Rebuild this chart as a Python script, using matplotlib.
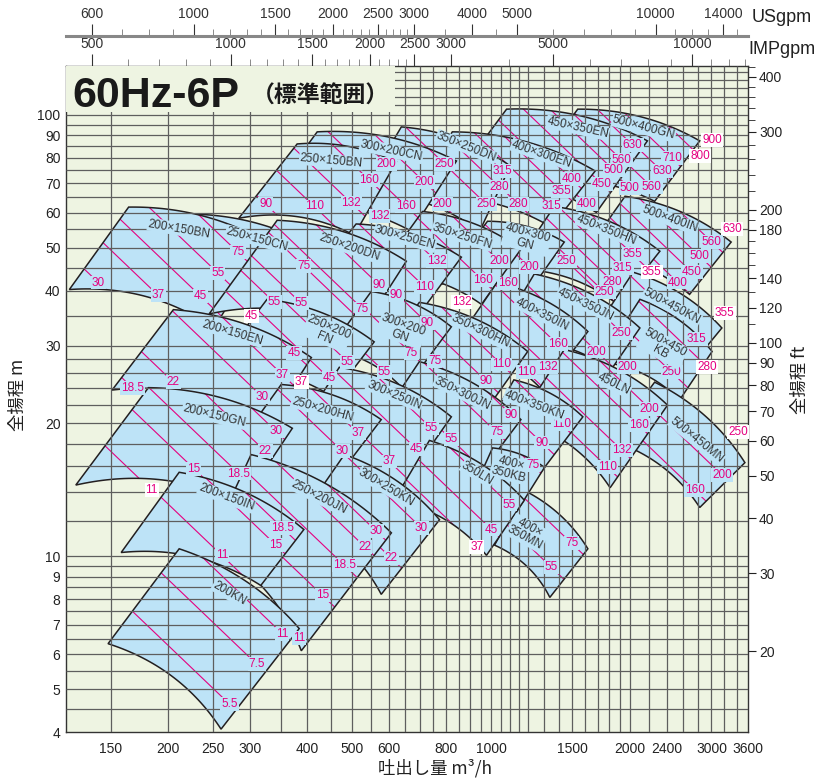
import numpy as np
import matplotlib
matplotlib.use("Agg")
import matplotlib.pyplot as plt
from matplotlib.path import Path
from matplotlib.patches import PathPatch, Rectangle
from matplotlib.ticker import FixedLocator, NullLocator, NullFormatter

NUM_FONT = ['Liberation Sans Narrow', 'Liberation Sans', 'DejaVu Sans']
JP_FONT = ['Noto Sans CJK JP', 'DejaVu Sans']
plt.rcParams['font.family'] = NUM_FONT

BG = '#eef4e2'
TILE = '#bde3f7'
EDGE = '#231f20'
MAGENTA = '#e5007f'
GRID = '#5e5e5e'

# pump tiles in drawing order; corners are (L, T, R, B) as (flow m3/h, head m)
tile_names = [
    '500×400GN', '450×350EN', '400×300EN', '350×250DN', '300×200CN', '250×150CN', '250×150BN', '200×150BN',
    '500×400IN', '450×350HN', '400×300\nGN', '350×250FN', '300×250EN', '250×200DN',
    '500×450KN', '500×450\nKB', '450×350JN', '400×350IN', '350×300HN', '300×200\nGN', '250×200\nFN', '200×150EN',
    '500×450MN', '450LN', '400×350KN', '350×300JN', '300×250IN', '250×200HN', '200×150GN',
    '400×\n350MN', '400×\n350KB', '350LN', '300×250KN', '250×200JN', '200×150IN',
    '200KN',
]

tile_corners = [
    [(1170, 69.7), (1540, 103), (2830, 87.3), (2260, 63.7)],
    [(833, 71.5), (1080, 103), (2180, 87.3), (1690, 60.1)],
    [(665, 64.4), (824, 91.5), (1680, 74.6), (1350, 55.7)],
    [(523, 66.1), (639, 93.9), (1100, 76.6), (944, 54.5)],
    [(319, 61.8), (420, 91.5), (841, 78.6), (672, 54.5)],
    [(181, 40.2), (218, 59.6), (424, 49.6), (334, 34.0)],
    [(284, 58.3), (380, 85.9), (623, 78.2), (505, 53.4)],
    [(122, 40.2), (164, 61.8), (327, 51.5), (251, 32.9)],
    [(1590, 48.3), (1950, 65.4), (3310, 51.5), (2690, 39.2)],
    [(1110, 44.7), (1370, 62.0), (2320, 49.1), (1880, 37.2)],
    [(773, 41.3), (982, 57.4), (1440, 51.5), (1190, 38.8)],
    [(567, 43.6), (710, 60.4), (1160, 49.6), (953, 37.2)],
    [(393, 40.2), (510, 56.6), (862, 47.6), (706, 35.9)],
    [(245, 35.4), (344, 57.7), (655, 46.6), (523, 32.3)],
    [(1680, 32.6), (2030, 44.0), (3160, 32.9), (2800, 28.2)],
    [(1720, 27.6), (2100, 38.2), (3010, 29.1), (2560, 22.6)],
    [(1020, 31.0), (1240, 43.6), (2100, 32.9), (1820, 26.5)],
    [(833, 30.2), (1030, 41.7), (1620, 32.3), (1290, 23.8)],
    [(558, 27.2), (699, 37.6), (1200, 29.1), (992, 22.0)],
    [(446, 29.4), (550, 39.8), (820, 33.1), (648, 23.8)],
    [(251, 26.5), (327, 38.2), (558, 30.6), (453, 23.0)],
    [(151, 23.8), (205, 36.2), (408, 28.2), (330, 19.9)],
    [(1820, 18.3), (2260, 24.8), (3545, 16.3), (2830, 12.9)],
    [(1150, 20.4), (1440, 29.4), (2410, 22.0), (1810, 14.3)],
    [(944, 18.3), (1120, 25.1), (1580, 20.7), (1190, 14.0)],
    [(567, 19.9), (699, 27.6), (1160, 20.4), (934, 15.1)],
    [(365, 17.9), (469, 26.8), (820, 20.7), (633, 14.1)],
    [(273, 17.0), (351, 24.5), (578, 20.4), (435, 13.8)],
    [(126, 14.5), (181, 24.1), (371, 19.5), (289, 13.2)],
    [(1017, 10.6), (1180, 14.1), (1620, 10.4), (1340, 8.07)],
    [(898, 13.5), (1007, 17.6), (1305, 15.9), (1124, 12.4)],
    [(617, 13.4), (735, 18.3), (1180, 13.4), (977, 10.05)],
    [(384, 12.1), (481, 17.0), (773, 12.1), (578, 8.2)],
    [(245, 10.6), (302, 17.0), (608, 11.3), (388, 6.11)],
    [(158, 10.2), (211, 15.5), (393, 11.5), (317, 8.59)],
    [(148, 6.34), (211, 10.4), (384, 6.86), (260, 4.06)],
]

name_pos = [
    (2140, 93.4), (1540, 93.4), (1286, 81.4), (884, 84.6), (608, 82.8), (311, 52.3), (450, 78.6), (211, 55.1),
    (2438, 58.0), (1779, 54.8), (1193, 52.3), (867, 53.1), (651, 52.6), (493, 50.1),
    (2462, 36.8), (2354, 29.7), (1602, 37.2), (1286, 35.3), (948, 32.3), (639, 32.5), (441, 32.1), (275, 32.1),
    (2790, 18.3), (1842, 24.5), (1241, 22.0), (867, 23.4), (617, 23.2), (431, 21.5), (251, 20.8),
    (1199, 11.3), (1096, 15.8), (934, 15.4), (593, 14.3), (424, 13.6), (267, 13.6),
    (271, 8.24),
]

# motor output (kW) labels per tile: (text, flow, head)
power_labels = [
    [('900', 3007, 87.7), ('800', 2832, 80.6), ('710', 2462, 79.8), ('630', 2342, 74.6), ('560', 2228, 68.6), ('500', 1996, 68.2)],
    [('630', 2026, 85.4), ('560', 1918, 79.0), ('500', 1842, 75.0), ('450', 1736, 69.7), ('400', 1610, 62.7)],
    [('400', 1494, 71.5), ('355', 1421, 67.2), ('315', 1351, 62.0), ('280', 1146, 62.7)],
    [('315', 1058, 74.6), ('280', 1043, 68.6), ('250', 977, 62.7), ('200', 784, 62.7)],
    [('250', 792, 77.5), ('200', 717, 70.4), ('160', 655, 62.0), ('132', 573, 58.9)],
    [],
    [('200', 593, 77.5), ('160', 545, 71.1), ('132', 498, 63.1), ('110', 414, 62.0), ('90', 325, 62.7)],
    [('75', 283, 48.8), ('55', 256, 43.8), ('45', 235, 38.8), ('37', 190, 39.0), ('30', 141, 41.7)],
    [('630', 3323, 55.1), ('560', 3007, 51.5), ('500', 2832, 47.8), ('450', 2721, 44.0), ('400', 2538, 41.7), ('355', 2228, 44.0)],
    [('355', 2026, 48.3), ('315', 1928, 44.9), ('280', 1833, 41.9), ('250', 1762, 39.6), ('250', 1457, 46.6)],
    [('200', 1211, 45.2), ('160', 1085, 41.5)],
    [('200', 1043, 46.6), ('160', 958, 42.2), ('132', 862, 37.6)],
    [('132', 761, 46.6), ('110', 717, 40.8), ('90', 623, 39.0)],
    [('90', 573, 41.1), ('75', 526, 36.4), ('55', 388, 37.4), ('75', 393, 45.4), ('55', 339, 37.6), ('45', 303, 35.0)],
    [('355', 3208, 35.5), ('315', 2790, 31.0)],
    [('280', 2934, 26.9), ('250', 2462, 26.1), ('200', 1976, 26.9)],
    [('250', 1918, 32.1), ('200', 1693, 29.1)],
    [('160', 1393, 30.2), ('132', 1325, 26.9), ('110', 1193, 26.2)],
    [('110', 1053, 27.2), ('90', 977, 24.9), ('75', 754, 27.7)],
    [('90', 728, 33.7), ('75', 672, 28.8), ('55', 587, 26.2)],
    [('55', 488, 27.6), ('45', 446, 25.3), ('37', 388, 24.8)],
    [('45', 374, 28.9), ('37', 353, 25.8), ('30', 319, 23.0), ('22', 205, 24.8), ('18.5', 167, 24.1)],
    [('250', 3424, 19.1), ('200', 3160, 15.3), ('160', 2762, 14.1)],
    [('200', 2206, 21.6), ('160', 2088, 19.8), ('132', 1918, 17.4), ('110', 1788, 15.9)],
    [('110', 1421, 19.9), ('90', 1286, 18.1)],
    [('90', 1107, 20.9), ('75', 1027, 19.1), ('55', 820, 18.4)],
    [('55', 742, 19.5), ('45', 689, 17.5), ('37', 602, 16.4)],
    [('37', 515, 19.0), ('30', 476, 17.3)],
    [('30', 342, 19.2), ('22', 324, 17.3), ('18.5', 284, 15.4), ('15', 227, 15.8), ('11', 184, 14.1)],
    [('75', 1494, 10.7), ('55', 1351, 9.44)],
    [('75', 1229, 16.1)],
    [('55', 1096, 13.1), ('45', 1002, 11.5), ('37', 930, 10.5)],
    [('30', 706, 11.6), ('22', 608, 9.9)],
    [('30', 564, 11.4), ('22', 533, 10.5), ('18.5', 481, 9.54), ('15', 431, 8.16), ('11', 384, 6.54)],
    [('18.5', 353, 11.6), ('15', 342, 10.6), ('11', 261, 10.05)],
    [('11', 353, 6.68), ('7.5', 311, 5.69), ('5.5', 271, 4.63)],
]

# axis values
x_ticks = [150, 200, 250, 300, 400, 500, 600, 800, 1000, 1500, 2000, 2400, 3000, 3600]
y_ticks = [4, 5, 6, 7, 8, 9, 10, 20, 30, 40, 50, 60, 70, 80, 90, 100]
ft_ticks = [20, 30, 40, 50, 60, 70, 80, 90, 100, 120, 140, 180, 200, 300, 400]
ft_minor = [110, 130, 150, 160, 170, 190, 220, 240, 260, 280, 320, 340, 360, 380, 420]
us_ticks = [600, 1000, 1500, 2000, 2500, 3000, 4000, 5000, 10000, 14000]
us_minor = [700, 800, 900, 1100, 1200, 1300, 1400, 1600, 1700, 1800, 1900, 2100, 2200, 2300, 2400,
            2600, 2700, 2800, 2900, 3500, 4500, 6000, 7000, 8000, 9000, 11000, 12000, 13000, 15000]
imp_ticks = [500, 1000, 1500, 2000, 2500, 3000, 5000, 10000]
imp_minor = [600, 700, 800, 900, 1100, 1200, 1300, 1400, 1600, 1700, 1800, 1900, 2100, 2200, 2300,
             2400, 4000, 6000, 7000, 8000, 9000, 11000, 12000, 13000]
grid_q = [150, 200, 250] + list(range(300, 1250, 50)) + list(range(1300, 2100, 100)) + list(range(2200, 3600, 200))
grid_h = list(np.arange(4.5, 10, 0.5)) + list(range(10, 30, 2)) + list(range(30, 130, 5))


def curve(p0, p1, bulge, n=40):
    u0, v0 = np.log10(p0)
    u1, v1 = np.log10(p1)
    t = np.linspace(0, 1, n)
    du, dv = u1 - u0, v1 - v0
    length = np.hypot(du, dv)
    nx, ny = -dv / length, du / length
    if ny < 0:
        nx, ny = -nx, -ny
    off = bulge * length * 4 * t * (1 - t)
    return np.column_stack([10 ** (u0 + t * du + nx * off), 10 ** (v0 + t * dv + ny * off)])


fig = plt.figure(figsize=(8.17, 7.8), dpi=100)
ax = fig.add_axes([66 / 817, 48 / 780, 682 / 817, 666 / 780])
ax.set_xscale('log')
ax.set_yscale('log')
ax.set_xlim(120, 3600)
ax.set_ylim(4, 129)
ax.set_facecolor(BG)

tops = []
for i, (corners, labels) in enumerate(zip(tile_corners, power_labels)):
    L, T, R, B = corners
    top = curve(T, R, 0.07)
    tops.append(top)
    verts = np.vstack([top, curve(L, B, 0.09)[::-1]])
    path = Path(np.vstack([verts, verts[:1]]), closed=True)
    z = 2 + i * 0.03
    fill = PathPatch(path, fc=TILE, ec='none', zorder=z)
    ax.add_patch(fill)
    edge = PathPatch(path, fc='none', ec=EDGE, lw=1.1, zorder=z + 0.02, joinstyle='miter')
    ax.add_patch(edge)
    logpath = Path(np.log10(verts))
    for txt, q, h in labels:
        qs = np.geomspace(q / 6, q * 6, 80)
        line, = ax.plot(qs, h * q / qs, color=MAGENTA, lw=0.8, zorder=z + 0.01)
        line.set_clip_path(fill)
        inside = logpath.contains_point((np.log10(q), np.log10(h)))
        ax.text(q, h, txt, color=MAGENTA, fontsize=8.5, ha='center', va='center', zorder=40,
                bbox=dict(boxstyle='square,pad=0.08', fc=TILE if inside else 'white', ec='none'))

# grid on top of the tiles
ax.vlines(grid_q, 4, 129, colors=GRID, lw=0.9, zorder=20)
ax.hlines(grid_h, 120, 3600, colors=GRID, lw=0.9, zorder=20)

# tile names, turned along the upper curve
for name, (q, h), top in zip(tile_names, name_pos, tops):
    disp = ax.transData.transform(top)
    lx, ly = ax.transData.transform((q, h))
    k = int(np.clip(np.argmin(np.abs(disp[:, 0] - lx)), 1, len(disp) - 2))
    ang = np.degrees(np.arctan2(disp[k + 1, 1] - disp[k - 1, 1], disp[k + 1, 0] - disp[k - 1, 0]))
    ax.text(q, h, name, color='#333333', fontsize=8.5, ha='center', va='center', rotation=ang,
            rotation_mode='anchor', linespacing=0.95, zorder=41,
            bbox=dict(boxstyle='square,pad=0.05', fc=TILE, ec='none'))

# title area
ax.add_patch(Rectangle((0, 0.931), 0.482, 0.07, transform=ax.transAxes, fc=BG, ec='none', zorder=45))
ax.text(0.010, 0.955, '60Hz-6P', transform=ax.transAxes, fontsize=31, fontweight='bold',
        color='#1a1a1a', ha='left', va='center', zorder=46)
ax.text(0.272, 0.955, '（標準範囲）', transform=ax.transAxes, fontsize=16.5, fontweight='bold',
        family=JP_FONT, color='#1a1a1a', ha='left', va='center', zorder=46)

# main axes ticks
ax.set_xticks(x_ticks, [str(v) for v in x_ticks])
ax.set_yticks(y_ticks, [str(v) for v in y_ticks])
ax.xaxis.set_minor_locator(NullLocator())
ax.yaxis.set_minor_locator(NullLocator())
ax.tick_params(axis='both', length=0, labelsize=10, colors='#222222')
ax.tick_params(axis='x', pad=7)
ax.tick_params(axis='y', pad=4)
for s in ax.spines.values():
    s.set_color('#333333')
    s.set_linewidth(1.0)

# head in feet
ft = ax.secondary_yaxis('right', functions=(lambda m: m * 3.28084, lambda f: f / 3.28084))
ft.set_yticks(ft_ticks, [str(v) for v in ft_ticks])
ft.yaxis.set_minor_locator(FixedLocator(ft_minor))
ft.yaxis.set_minor_formatter(NullFormatter())
ft.tick_params(axis='y', which='major', length=6, labelsize=10, colors='#222222', pad=2)
ft.tick_params(axis='y', which='minor', length=5, color='#222222')
ft.spines['right'].set_visible(False)

# flow in gallons per minute
imp = ax.secondary_xaxis('top', functions=(lambda q: q * 3.666, lambda g: g / 3.666))
imp.set_xticks(imp_ticks, [str(v) for v in imp_ticks])
imp.xaxis.set_minor_locator(FixedLocator(imp_minor))
imp.xaxis.set_minor_formatter(NullFormatter())
imp.tick_params(axis='x', which='major', length=9, labelsize=10, colors='#333333', pad=2)
imp.tick_params(axis='x', which='minor', length=5, color='#777777')
imp.spines['top'].set_visible(False)

us = ax.secondary_xaxis(1.045, functions=(lambda q: q * 4.4029, lambda g: g / 4.4029))
us.set_xticks(us_ticks, [str(v) for v in us_ticks])
us.xaxis.set_minor_locator(FixedLocator(us_minor))
us.xaxis.set_minor_formatter(NullFormatter())
us.tick_params(axis='x', which='major', length=9, labelsize=10, colors='#333333', pad=2)
us.tick_params(axis='x', which='minor', length=5, color='#777777')
us.spines['top'].set_color('#888888')
us.spines['top'].set_linewidth(2.2)

fig.text(752 / 817, 1 - 18 / 780, 'USgpm', fontsize=13, color='#222222', ha='left', va='center')
fig.text(748 / 817, 1 - 50 / 780, 'IMPgpm', fontsize=13, color='#222222', ha='left', va='center')
fig.text(435 / 817, 1 - 768 / 780, '吐出し量 m³/h', family=JP_FONT, fontsize=12.5,
         color='#222222', ha='center', va='center')
fig.text(18 / 817, 1 - 395 / 780, '全揚程 m', family=JP_FONT, fontsize=12.5, rotation=90,
         color='#222222', ha='center', va='center')
fig.text(800 / 817, 1 - 380 / 780, '全揚程 ft', family=JP_FONT, fontsize=12.5, rotation=90,
         color='#222222', ha='center', va='center')

fig.savefig('out.png', dpi=100, facecolor='white')
